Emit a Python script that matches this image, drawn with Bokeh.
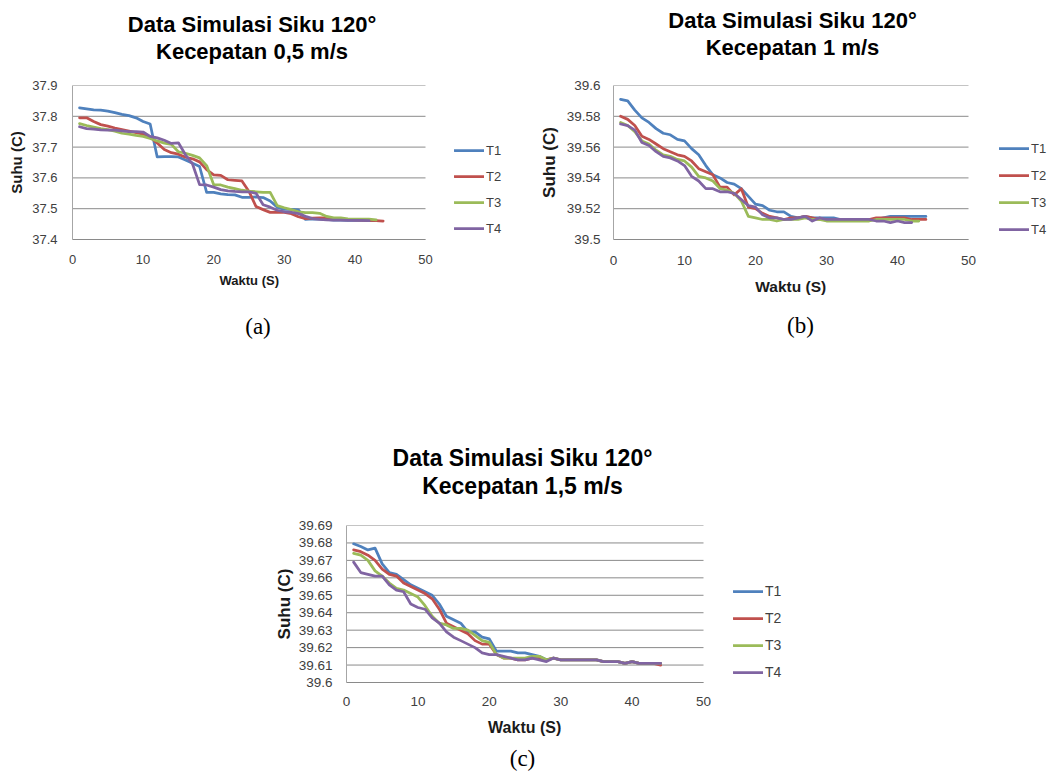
from bokeh.plotting import figure
from bokeh.models import Legend, LegendItem, Title, FixedTicker, Range1d
from bokeh.layouts import column, row
from bokeh.embed import file_html
from bokeh.resources import INLINE

# ---------------- data ----------------
series_names = ["T1", "T2", "T3", "T4"]
series_colors = ["#4F81BD", "#C0504D", "#9BBB59", "#8064A2"]
x_ticks = [0, 10, 20, 30, 40, 50]

# (a) Kecepatan 0,5 m/s
a_T1 = [37.827, 37.824, 37.821, 37.820, 37.817, 37.812, 37.806, 37.802, 37.795, 37.783,
        37.775, 37.668, 37.669, 37.669, 37.668, 37.658, 37.648, 37.637, 37.553, 37.553,
        37.548, 37.546, 37.545, 37.537, 37.537, 37.538, 37.536, 37.525, 37.505, 37.498,
        37.498, 37.496, 37.465, 37.467, 37.466, 37.465, 37.463, 37.463, 37.462, 37.462,
        37.462, 37.461, 37.461]
a_T2 = [37.795, 37.795, 37.783, 37.773, 37.768, 37.762, 37.757, 37.752, 37.747, 37.742,
        37.733, 37.713, 37.692, 37.682, 37.677, 37.667, 37.662, 37.652, 37.627, 37.610,
        37.608, 37.594, 37.592, 37.590, 37.556, 37.507, 37.497, 37.488, 37.489, 37.488,
        37.484, 37.474, 37.468, 37.469, 37.470, 37.470, 37.468, 37.466, 37.465, 37.464,
        37.463, 37.462, 37.461, 37.460]
a_T3 = [37.776, 37.770, 37.765, 37.760, 37.757, 37.752, 37.745, 37.742, 37.738, 37.735,
        37.728, 37.720, 37.713, 37.709, 37.685, 37.680, 37.673, 37.665, 37.640, 37.578,
        37.577, 37.570, 37.565, 37.560, 37.557, 37.555, 37.553, 37.553, 37.510, 37.503,
        37.497, 37.490, 37.487, 37.487, 37.485, 37.475, 37.470, 37.470, 37.467, 37.466,
        37.466, 37.466, 37.464]
a_T4 = [37.766, 37.760, 37.758, 37.756, 37.755, 37.755, 37.753, 37.750, 37.750, 37.749,
        37.735, 37.730, 37.722, 37.712, 37.714, 37.675, 37.645, 37.578, 37.577, 37.570,
        37.562, 37.558, 37.556, 37.555, 37.555, 37.550, 37.513, 37.505, 37.495, 37.490,
        37.488, 37.484, 37.475, 37.468, 37.465, 37.464, 37.463, 37.463, 37.462, 37.462,
        37.462, 37.461]
a_y_ticks = [37.4, 37.5, 37.6, 37.7, 37.8, 37.9]
a_y_labels = ["37.4", "37.5", "37.6", "37.7", "37.8", "37.9"]

# (b) Kecepatan 1 m/s
b_T1 = [39.591, 39.590, 39.584, 39.579, 39.576, 39.572, 39.569, 39.568, 39.565, 39.564,
        39.559, 39.555, 39.548, 39.542, 39.540, 39.537, 39.536, 39.533, 39.528, 39.523,
        39.522, 39.519, 39.518, 39.518, 39.515, 39.514, 39.515, 39.514, 39.514, 39.514,
        39.514, 39.513, 39.513, 39.513, 39.513, 39.513, 39.513, 39.514, 39.515, 39.515,
        39.515, 39.515, 39.515, 39.515]
b_T2 = [39.580, 39.578, 39.574, 39.567, 39.565, 39.562, 39.559, 39.557, 39.555, 39.554,
        39.551, 39.546, 39.544, 39.542, 39.534, 39.534, 39.529, 39.533, 39.521, 39.520,
        39.517, 39.515, 39.514, 39.513, 39.514, 39.514, 39.515, 39.514, 39.513, 39.513,
        39.513, 39.513, 39.513, 39.513, 39.513, 39.513, 39.514, 39.514, 39.514, 39.514,
        39.514, 39.513, 39.513, 39.513]
b_T3 = [39.576, 39.574, 39.570, 39.564, 39.562, 39.558, 39.555, 39.554, 39.552, 39.551,
        39.547, 39.541, 39.540, 39.538, 39.533, 39.532, 39.530, 39.525, 39.515, 39.514,
        39.513, 39.513, 39.512, 39.513, 39.513, 39.513, 39.514, 39.513, 39.513, 39.512,
        39.512, 39.512, 39.512, 39.512, 39.512, 39.512, 39.513, 39.513, 39.513, 39.513,
        39.513, 39.512, 39.512]
b_T4 = [39.575, 39.574, 39.571, 39.563, 39.561, 39.557, 39.554, 39.553, 39.551, 39.548,
        39.541, 39.538, 39.533, 39.533, 39.531, 39.531, 39.530, 39.526, 39.522, 39.521,
        39.516, 39.514, 39.514, 39.513, 39.513, 39.514, 39.515, 39.512, 39.514, 39.513,
        39.513, 39.513, 39.513, 39.513, 39.513, 39.513, 39.512, 39.512, 39.511, 39.512,
        39.511, 39.511]
b_y_ticks = [39.5, 39.52, 39.54, 39.56, 39.58, 39.6]
b_y_labels = ["39.5", "39.52", "39.54", "39.56", "39.58", "39.6"]

# (c) Kecepatan 1,5 m/s
c_T1 = [39.6795, 39.678, 39.676, 39.677, 39.668, 39.663, 39.662, 39.659, 39.656, 39.654,
        39.652, 39.650, 39.645, 39.638, 39.636, 39.634, 39.629, 39.629, 39.626, 39.625,
        39.618, 39.618, 39.618, 39.617, 39.617, 39.616, 39.615, 39.613, 39.614, 39.613,
        39.613, 39.613, 39.613, 39.613, 39.613, 39.612, 39.612, 39.612, 39.611, 39.612,
        39.611, 39.611, 39.611, 39.611]
c_T2 = [39.676, 39.675, 39.673, 39.670, 39.665, 39.662, 39.661, 39.657, 39.655, 39.653,
        39.651, 39.648, 39.642, 39.634, 39.632, 39.630, 39.628, 39.624, 39.622, 39.622,
        39.616, 39.614, 39.614, 39.613, 39.613, 39.614, 39.614, 39.613, 39.614, 39.613,
        39.613, 39.613, 39.613, 39.613, 39.613, 39.612, 39.612, 39.612, 39.611, 39.612,
        39.611, 39.611, 39.611, 39.610]
c_T3 = [39.674, 39.673, 39.670, 39.664, 39.661, 39.657, 39.654, 39.653, 39.651, 39.649,
        39.644, 39.638, 39.634, 39.633, 39.631, 39.631, 39.630, 39.627, 39.624, 39.623,
        39.616, 39.614, 39.614, 39.614, 39.614, 39.615, 39.615, 39.613, 39.614, 39.613,
        39.613, 39.613, 39.613, 39.613, 39.613, 39.612, 39.612, 39.612, 39.611, 39.612,
        39.611, 39.611, 39.611, 39.611]
c_T4 = [39.669, 39.663, 39.662, 39.661, 39.661, 39.656, 39.653, 39.652, 39.645, 39.643,
        39.642, 39.637, 39.634, 39.629, 39.626, 39.624, 39.622, 39.620, 39.617, 39.616,
        39.616, 39.615, 39.614, 39.613, 39.613, 39.614, 39.613, 39.612, 39.614, 39.613,
        39.613, 39.613, 39.613, 39.613, 39.613, 39.612, 39.612, 39.612, 39.611, 39.612,
        39.611, 39.611, 39.611, 39.611]
c_y_ticks = [39.6, 39.61, 39.62, 39.63, 39.64, 39.65, 39.66, 39.67, 39.68, 39.69]
c_y_labels = ["39.6", "39.61", "39.62", "39.63", "39.64", "39.65", "39.66", "39.67", "39.68", "39.69"]

title_line1 = ["Data Simulasi Siku 120°", "Data Simulasi Siku 120°", "Data Simulasi Siku 120°"]
title_line2 = ["Kecepatan 0,5 m/s", "Kecepatan 1 m/s", "Kecepatan 1,5 m/s"]
panel_tags = ["(a)", "(b)", "(c)"]
x_label = "Waktu (S)"
y_label = "Suhu (C)"

# ---------------- styling / layout helpers ----------------
SANS = "Liberation Sans"
SERIF = "Liberation Serif"
GRID = "#8a8a8a"

# approximate advance widths (em) used only to position left-aligned titles
_BOLD_W = {"D": .722, "a": .556, "t": .333, " ": .278, "S": .667, "i": .278, "m": .889,
           "u": .611, "l": .278, "s": .556, "k": .556, "1": .556, "2": .556, "0": .556,
           "°": .4, "K": .722, "e": .556, "c": .556, "p": .611, "n": .611, ",": .278,
           "5": .556, "/": .278, "W": .944, "(": .333, ")": .333}
_SERIF_W = {"(": .333, ")": .333, "a": .444, "b": .5, "c": .444}


def text_w(s, size, table):
    return sum(table.get(ch, .55) for ch in s) * size


def make_chart(series, y_ticks, y_labels, idx, cfg):
    fl, fr = cfg["frame_l"], cfg["frame_r"]
    data_px = cfg["x50"] - fl            # pixels spanned by 0..50
    x_end = x_ticks[-1] * (fr - fl) / data_px
    p = figure(width=cfg["w"], height=cfg["h"],
               x_range=Range1d(x_ticks[0], x_end), y_range=Range1d(y_ticks[0], y_ticks[-1]),
               min_border_left=fl - cfg["x0"], min_border_right=cfg["x0"] + cfg["w"] - fr,
               min_border_top=cfg["bt"], min_border_bottom=cfg["bb"],
               output_backend="svg", toolbar_location=None)
    p.outline_line_color = None
    p.background_fill_color = None
    p.border_fill_color = None
    p.xgrid.grid_line_color = None
    p.ygrid.grid_line_color = None

    # horizontal gridlines only across the 0..50 span
    n = len(y_ticks)
    p.segment(x0=[x_ticks[0]] * n, x1=[x_ticks[-1]] * n, y0=y_ticks, y1=y_ticks,
              line_color=GRID, line_width=1, level="underlay")

    renderers = []
    for name, color, ys in zip(series_names, series_colors, series):
        xs = list(range(1, len(ys) + 1))
        r = p.line(xs, ys, line_color=color, line_width=2.75, line_join="round", line_cap="round")
        renderers.append((name, r))

    # axes
    p.xaxis.ticker = FixedTicker(ticks=x_ticks)
    p.xaxis.bounds = (x_ticks[0], x_ticks[-1])
    p.yaxis.ticker = FixedTicker(ticks=y_ticks)
    p.yaxis.major_label_overrides = {t: l for t, l in zip(y_ticks, y_labels)}
    for ax in (p.xaxis[0], p.yaxis[0]):
        ax.major_tick_line_color = None
        ax.minor_tick_line_color = None
        ax.major_tick_out = 0
        ax.major_tick_in = 0
        ax.major_label_text_font = SANS
        ax.major_label_text_color = "#404040"
        ax.major_label_text_font_size = cfg["tick_fs"]
    p.xaxis.axis_line_color = GRID
    p.yaxis.axis_line_color = "#a6a6a6"
    p.xaxis.major_label_standoff = cfg["x_std"]
    p.yaxis.major_label_standoff = cfg["y_std"]
    p.yaxis.axis_label = y_label
    p.yaxis.axis_label_text_font = SANS
    p.yaxis.axis_label_text_font_style = "bold"
    p.yaxis.axis_label_text_color = "#1a1a1a"
    p.yaxis.axis_label_text_font_size = cfg["yl_fs"]
    p.yaxis.axis_label_standoff = cfg["yl_std"]

    # ---- titles above (stacked outward from the frame) ----
    p.add_layout(Title(text=" ", text_font_size="1px", standoff=cfg["gap_top"]), "above")
    tfs = cfg["title_fs"]
    for line, std in ((title_line2[idx], cfg["t2_std"]), (title_line1[idx], cfg["t1_std"])):
        off = cfg["title_cx"] - fl - text_w(line, tfs, _BOLD_W) / 2
        p.add_layout(Title(text=line, align="left", offset=off, text_font=SANS,
                           text_font_size=f"{tfs}px", text_font_style="bold",
                           text_color="#000000", standoff=std), "above")

    # ---- x axis label and panel tag below ----
    xfs = cfg["xl_fs"]
    off = cfg["xl_cx"] - fl - text_w(x_label, xfs, _BOLD_W) / 2
    p.add_layout(Title(text=x_label, align="left", offset=off, text_font=SANS,
                       text_font_size=f"{xfs}px", text_font_style="bold",
                       text_color="#1a1a1a", standoff=cfg["xl_std"]), "below")
    gfs = cfg["tag_fs"]
    off = cfg["tag_cx"] - fl - text_w(panel_tags[idx], gfs, _SERIF_W) / 2
    p.add_layout(Title(text=panel_tags[idx], align="left", offset=off, text_font=SERIF,
                       text_font_size=f"{gfs}px", text_font_style="normal",
                       text_color="#000000", standoff=cfg["tag_std"]), "below")

    legend = Legend(items=[LegendItem(label=nm, renderers=[r]) for nm, r in renderers],
                    location=(cfg["leg_x"] - fl, cfg["leg_y"]), orientation="vertical",
                    glyph_width=30, glyph_height=20, label_height=20,
                    spacing=cfg["leg_sp"], label_standoff=2, padding=0, margin=0,
                    label_text_font=SANS, label_text_font_size=cfg["leg_fs"],
                    label_text_color="#404040",
                    border_line_color=None, background_fill_alpha=0)
    p.add_layout(legend, "center")
    return p


ROW1_H = 362
cfg_a = dict(x0=0, w=520, h=ROW1_H, frame_l=72, x50=425, frame_r=515, bt=85, bb=ROW1_H - 240,
             tick_fs="13px", x_std=15, y_std=15, yl_fs="15px", yl_std=4,
             title_fs=22, title_cx=251.5, gap_top=19, t2_std=0, t1_std=0,
             xl_fs=13, xl_cx=249, xl_std=8, tag_fs=23, tag_cx=257.5, tag_std=40,
             leg_x=454, leg_y=1, leg_sp=6, leg_fs="13px")
cfg_b = dict(x0=520, w=533, h=ROW1_H, frame_l=613, x50=968, frame_r=1051, bt=85, bb=ROW1_H - 239,
             tick_fs="13.5px", x_std=16, y_std=13, yl_fs="17px", yl_std=5,
             title_fs=22, title_cx=792, gap_top=23, t2_std=0, t1_std=0,
             xl_fs=15.5, xl_cx=790.5, xl_std=16, tag_fs=23, tag_cx=800, tag_std=17,
             leg_x=999, leg_y=0, leg_sp=7, leg_fs="13px")
cfg_c = dict(x0=0, w=1045, h=413, frame_l=346, x50=703, frame_r=800, bt=525 - ROW1_H, bb=ROW1_H + 413 - 682,
             tick_fs="13.5px", x_std=14, y_std=14, yl_fs="17px", yl_std=2,
             title_fs=23, title_cx=522, gap_top=24, t2_std=0, t1_std=0,
             xl_fs=16, xl_cx=524.5, xl_std=16, tag_fs=23, tag_cx=522, tag_std=0,
             leg_x=733, leg_y=0, leg_sp=7, leg_fs="14px")

pa = make_chart([a_T1, a_T2, a_T3, a_T4], a_y_ticks, a_y_labels, 0, cfg_a)
pb = make_chart([b_T1, b_T2, b_T3, b_T4], b_y_ticks, b_y_labels, 1, cfg_b)
pc = make_chart([c_T1, c_T2, c_T3, c_T4], c_y_ticks, c_y_labels, 2, cfg_c)

layout = column(row(pa, pb, spacing=0), pc, spacing=0)

open("out.html", "w").write(file_html(layout, INLINE))
